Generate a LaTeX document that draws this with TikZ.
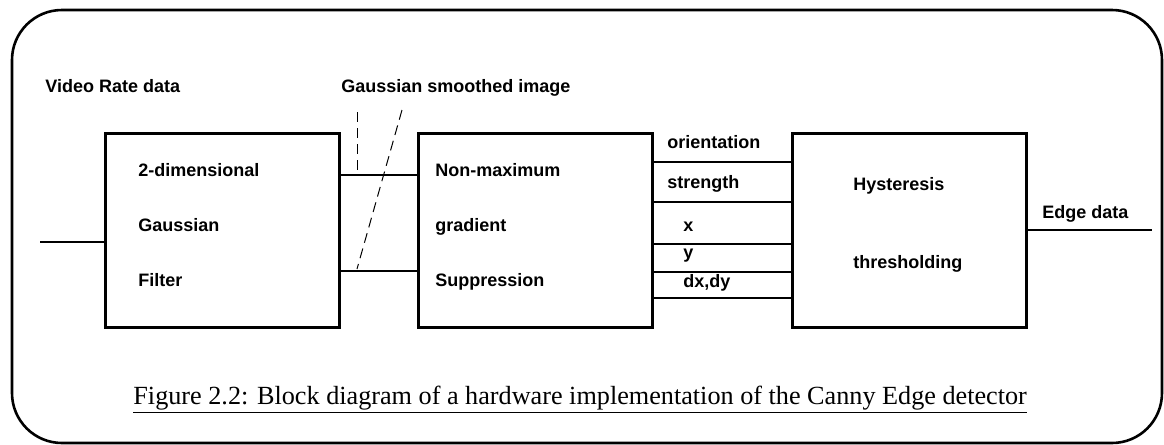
\documentclass[tikz,border=0pt]{standalone}
\usepackage{fontspec}
\setmainfont{Liberation Serif}
\setsansfont{Liberation Sans}

\begin{document}
\begin{tikzpicture}[x=0.5pt, y=-0.5pt,
    block/.style={draw, line width=1.5pt, minimum width=117pt, minimum height=97pt, inner sep=0pt},
    wire/.style={line width=1.4pt},
    guide/.style={line width=0.5pt, dash pattern=on 5pt off 3pt},
    lbl/.style={font=\sffamily\bfseries\fontsize{9}{11}\selectfont, anchor=base west, inner sep=0pt}]

    \useasboundingbox (0,0) rectangle (1164,445);

    % frame
    \draw[line width=1.3pt, rounded corners=25pt] (12,10) rectangle (1162,443);

    % blocks
    \node[block] (filter) at (222.5,230) {};
    \node[block] (nms) at (535,230) {};
    \node[block] (hyst) at (909,230) {};

    % labels
    \node[lbl] (vrd) at (45,92) {Video Rate data};
    \node[lbl] (gsi) at (341,92) {Gaussian smoothed image};
    \node[lbl] (filterA) at (138,176) {2-dimensional};
    \node[lbl] (filterB) at (138,231) {Gaussian};
    \node[lbl] (filterC) at (138,286) {Filter};
    \node[lbl] (nmsA) at (435,176) {Non-maximum};
    \node[lbl] (nmsB) at (435,231) {gradient};
    \node[lbl] (nmsC) at (435,286) {Suppression};
    \node[lbl] (hystA) at (853,190) {Hysteresis};
    \node[lbl] (hystB) at (853,268) {thresholding};
    \node[lbl] (edge) at (1042,218) {Edge data};

    % signal labels
    \node[lbl] (sigA) at (667,148) {orientation};
    \node[lbl] (sigB) at (667,188) {strength};
    \node[lbl] (sigC) at (683,231) {x};
    \node[lbl] (sigD) at (683,258) {y};
    \node[lbl] (sigE) at (683,287) {dx,dy};

    % input and output
    \coordinate (in) at (40,242);
    \coordinate (out) at (1152,230);
    \draw[wire] (in) -- (in -| filter.west);
    \draw[wire] (hyst.east) -- (out);

    % smoothed image lines
    \draw[wire] (filter.east |- 0,175) -- (nms.west |- 0,175);
    \draw[wire] (filter.east |- 0,271) -- (nms.west |- 0,271);

    % lines between suppression and hysteresis
    \foreach \yy in {162,202,244,272,298}
        \draw[wire] (nms.east |- 0,\yy) -- (hyst.west |- 0,\yy);

    % dashed pointers
    \coordinate (gsAtop) at (357,112);
    \coordinate (gsAbot) at (357,175);
    \coordinate (gsBtop) at (402,110);
    \coordinate (gsBbot) at (357,269);
    \draw[guide] (gsAtop) -- (gsAbot);
    \draw[guide] (gsBtop) -- (gsBbot);

    % caption
    \node[anchor=base west, inner sep=0pt, font=\fontsize{13.1}{15}\selectfont] (cap) at (133,404)
        {\underline{Figure 2.2: Block diagram of a hardware implementation of the Canny Edge detector}};

\end{tikzpicture}
\end{document}
